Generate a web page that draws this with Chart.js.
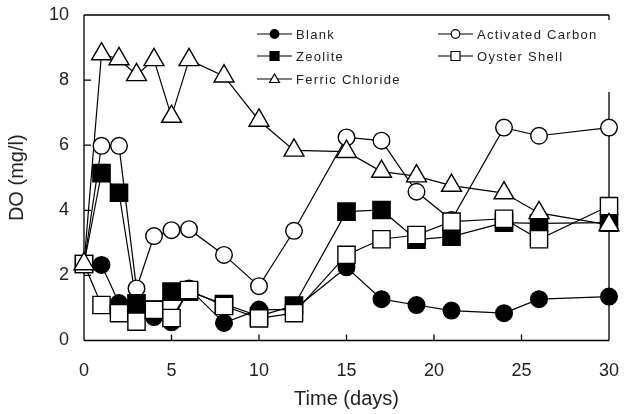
<!DOCTYPE html>
<html>
<head>
<meta charset="utf-8">
<script src="https://cdn.jsdelivr.net/npm/chart.js@4/dist/chart.umd.min.js"></script>
<style>
  html, body { margin: 0; padding: 0; background: #fff; }
  #wrap { width: 624px; height: 414px; }
</style>
</head>
<body>
<div id="wrap"><canvas id="c" width="624" height="414"></canvas></div>
<script>
// Sampling days
const days = [0, 1, 2, 3, 4, 5, 6, 8, 10, 12, 15, 17, 19, 21, 24, 26, 30];

// Dissolved oxygen (mg/l) per treatment
const blank     = [2.35, 2.32, 1.15, 1.00, 0.72, 0.56, 1.60, 0.54, 0.95, 0.95, 2.25, 1.27, 1.09, 0.92, 0.84, 1.27, 1.35];
const activated = [2.35, 5.98, 5.98, 1.60, 3.21, 3.39, 3.42, 2.63, 1.67, 3.37, 6.24, 6.14, 4.57, 3.70, 6.54, 6.29, 6.54];
const zeolite   = [2.35, 5.14, 4.54, 1.14, 0.95, 1.50, 1.50, 1.12, 0.75, 1.07, 3.96, 4.01, 3.10, 3.19, 3.62, 3.60, 3.62];
const oyster    = [2.35, 1.09, 0.84, 0.58, 0.94, 0.69, 1.55, 1.06, 0.68, 0.84, 2.63, 3.11, 3.24, 3.65, 3.74, 3.11, 4.13];
const ferric    = [2.35, 8.80, 8.65, 8.16, 8.62, 6.88, 8.62, 8.12, 6.76, 5.84, 5.80, 5.19, 5.05, 4.76, 4.53, 3.92, 3.55];

const xTicks = [0, 5, 10, 15, 20, 25, 30];
const yTicks = [0, 2, 4, 6, 8, 10];

const FONT = '"Liberation Sans", Arial, sans-serif';
const INK = '#222';

// name, values, marker style, fill, marker radius, draw order of marker (lower = on top)
const series = [
  { name: 'Blank',            values: blank,     style: 'circle',   fill: '#000', r: 8.3,  order: 5, col: 0, row: 0 },
  { name: 'Activated Carbon', values: activated, style: 'circle',   fill: '#fff', r: 8.3,  order: 4, col: 1, row: 0 },
  { name: 'Zeolite',          values: zeolite,   style: 'rect',     fill: '#000', r: 12.2, order: 3, col: 0, row: 1 },
  { name: 'Oyster Shell',     values: oyster,    style: 'rect',     fill: '#fff', r: 12.2, order: 2, col: 1, row: 1 },
  { name: 'Ferric Chloride',  values: ferric,    style: 'triangle', fill: '#fff', r: 11.5, order: 1, col: 0, row: 2 }
];

const toPoints = vals => days.map((d, i) => ({ x: d, y: vals[i] }));

const datasets = [];
// connecting lines sit underneath every marker
series.forEach(s => datasets.push({
  label: s.name + ' line',
  data: toPoints(s.values),
  borderColor: '#000',
  borderWidth: 1.2,
  pointRadius: 0,
  fill: false,
  tension: 0,
  clip: false,
  order: 10
}));
series.forEach(s => datasets.push({
  label: s.name,
  data: toPoints(s.values),
  showLine: false,
  pointStyle: s.style,
  pointRadius: s.r,
  pointBackgroundColor: s.fill,
  pointBorderColor: '#000',
  pointBorderWidth: 1.4,
  clip: false,
  order: s.order
}));

// plot frame with inward tick marks
const framePlugin = {
  id: 'frame',
  beforeDatasetsDraw(chart) {
    const { ctx, chartArea: a, scales } = chart;
    ctx.save();
    ctx.strokeStyle = '#000';
    ctx.lineWidth = 1.3;
    ctx.beginPath();
    ctx.moveTo(a.left, a.top); ctx.lineTo(a.right, a.top);
    ctx.moveTo(a.left, a.top); ctx.lineTo(a.left, a.bottom);
    ctx.moveTo(a.left, a.bottom); ctx.lineTo(a.right, a.bottom);
    ctx.moveTo(a.right, a.top); ctx.lineTo(a.right, a.top + 5);
    ctx.moveTo(a.right, a.top + 77); ctx.lineTo(a.right, a.bottom);
    xTicks.slice(1, -1).forEach(v => {
      const px = scales.x.getPixelForValue(v);
      ctx.moveTo(px, a.bottom); ctx.lineTo(px, a.bottom - 6);
    });
    yTicks.slice(1, -1).forEach(v => {
      const py = scales.y.getPixelForValue(v);
      ctx.moveTo(a.left, py); ctx.lineTo(a.left + 7, py);
    });
    ctx.stroke();
    ctx.restore();
  }
};

// two-column key inside the plot
const keyPlugin = {
  id: 'key',
  afterDraw(chart) {
    const { ctx } = chart;
    const cols = [{ x0: 257, x1: 292, tx: 296 }, { x0: 438, x1: 473, tx: 477 }];
    const rows = [34, 56, 79];
    ctx.save();
    series.forEach(s => {
      const c = cols[s.col], y = rows[s.row], cx = (c.x0 + c.x1) / 2;
      ctx.strokeStyle = '#000';
      ctx.lineWidth = 1.2;
      ctx.beginPath();
      ctx.moveTo(c.x0, y); ctx.lineTo(c.x1, y);
      ctx.stroke();
      ctx.fillStyle = s.fill;
      ctx.lineWidth = 1.2;
      ctx.beginPath();
      if (s.style === 'circle') {
        ctx.arc(cx, y, 4.3, 0, Math.PI * 2);
      } else if (s.style === 'rect') {
        ctx.rect(cx - 4.5, y - 4.5, 9, 9);
      } else {
        ctx.moveTo(cx, y - 5); ctx.lineTo(cx + 5, y + 3.5); ctx.lineTo(cx - 5, y + 3.5); ctx.closePath();
      }
      ctx.fill();
      ctx.stroke();
      ctx.fillStyle = INK;
      ctx.font = '13px ' + FONT;
      ctx.letterSpacing = '1.3px';
      ctx.textBaseline = 'middle';
      ctx.textAlign = 'left';
      ctx.fillText(s.name, c.tx, y + 1);
    });
    ctx.restore();
  }
};

new Chart(document.getElementById('c'), {
  type: 'line',
  data: { datasets },
  options: {
    responsive: false,
    animation: false,
    events: [],
    layout: { padding: { top: 15, right: 15, left: 0, bottom: 0 } },
    plugins: { legend: { display: false }, tooltip: { enabled: false } },
    scales: {
      x: {
        type: 'linear',
        min: 0, max: 30,
        afterFit(scale) { scale.height = 73.5; scale.paddingLeft = 0; scale.paddingRight = 0; },
        afterBuildTicks(scale) { scale.ticks = xTicks.map(v => ({ value: v })); },
        grid: { display: false, drawTicks: false },
        border: { display: false },
        ticks: { padding: 20, color: INK, font: { family: FONT, size: 18 }, maxRotation: 0 },
        title: { display: true, text: 'Time (days)', color: INK, font: { family: FONT, size: 20 }, padding: { top: 0, bottom: 3 } }
      },
      y: {
        type: 'linear',
        min: 0, max: 10,
        afterFit(scale) { scale.width = 84; scale.paddingTop = 0; scale.paddingBottom = 0; },
        afterBuildTicks(scale) { scale.ticks = yTicks.map(v => ({ value: v })); },
        grid: { display: false, drawTicks: false },
        border: { display: false },
        ticks: { padding: 15, color: INK, font: { family: FONT, size: 18 } },
        title: { display: true, text: 'DO (mg/l)', color: INK, font: { family: FONT, size: 20 }, padding: { top: 5, bottom: 0 } }
      }
    }
  },
  plugins: [framePlugin, keyPlugin]
});
</script>
</body>
</html>
